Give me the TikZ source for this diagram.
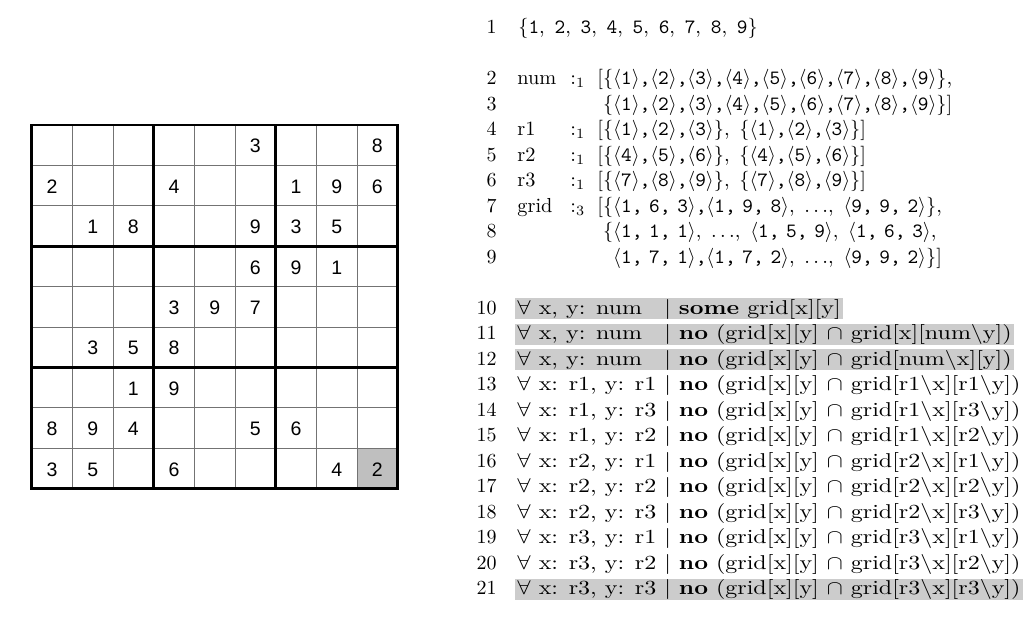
\documentclass[tikz,border=0pt]{standalone}
\usepackage{fontspec}
\newfontfamily\gridfont{Liberation Sans}
\newcommand{\tpl}[1]{$\langle$#1$\rangle$}
\newcommand{\tc}{\texttt{,}}
\newcommand{\tn}[1]{\texttt{#1}}
\newcommand{\sep}{,\hspace{4.8pt}}
\newlength\lw
\newcommand{\cl}[2]{\makebox[\lw][l]{$\forall$ #1}$|$ #2}
\begin{document}
\settowidth\lw{$\forall$ x: r1, y: r1 }%
\begin{tikzpicture}[x=1pt,y=-1pt,
  lnum/.style={anchor=base east, inner sep=0pt, scale=2.0, font=\fontsize{10}{12}\selectfont},
  ltxt/.style={anchor=base west, inner sep=0pt, scale=2.03, font=\fontsize{10}{12}\selectfont},
  rline/.style={anchor=base west, inner sep=0pt, xscale=2.4, yscale=2.0,
    font=\fontsize{10}{12}\selectfont, text height=8pt, text depth=2.6pt},
  hl/.style={fill=gray!40, inner xsep=1pt},
  cellnum/.style={font=\gridfont\fontsize{19.5}{20}\selectfont, inner sep=0pt},
  gthin/.style={line width=1pt, black!55},
  gthick/.style={line width=2.8pt, black, line cap=rect}
]
\useasboundingbox (0,0) rectangle (1032,616);
% ---------- sudoku grid ----------
\fill[gray!50] (357.06,448.2) rectangle (397.73,488.6);
\foreach \i in {1,2,4,5,7,8}{
  \draw[gthin] ({31.7+\i*40.67},125) -- ({31.7+\i*40.67},488.6);
  \draw[gthin] (31.7,{125+\i*40.4}) -- (397.73,{125+\i*40.4});
}
\foreach \i in {0,3,6,9}{
  \draw[gthick] ({31.7+\i*40.67},125) -- ({31.7+\i*40.67},488.6);
  \draw[gthick] (31.7,{125+\i*40.4}) -- (397.73,{125+\i*40.4});
}
\foreach \r/\c/\v in {1/6/3,1/9/8,
  2/1/2,2/4/4,2/7/1,2/8/9,2/9/6,
  3/2/1,3/3/8,3/6/9,3/7/3,3/8/5,
  4/6/6,4/7/9,4/8/1,
  5/4/3,5/5/9,5/6/7,
  6/2/3,6/3/5,6/4/8,
  7/3/1,7/4/9,
  8/1/8,8/2/9,8/3/4,8/6/5,8/7/6,
  9/1/3,9/2/5,9/4/6,9/8/4,9/9/2}{
  \node[cellnum] (d\r\c) at ({31.7+(\c-0.5)*40.67},{125+(\r-0.5)*40.4+1}) {\v};
}
% ---------- line numbers ----------
\foreach \n/\y in {1/33.6,2/84.6,3/110.1,4/135.6,5/161.1,6/186.6,7/212.1,8/237.6,9/263.1,
  10/314.1,11/339.6,12/365.1,13/390.6,14/416.1,15/441.6,16/467.1,17/492.6,18/518.1,19/543.6,20/569.1,21/594.6}{
  \node[lnum] (ln\n) at (497,\y) {\n};
}
% ---------- declarations ----------
\node[ltxt] (t1) at (518,33.6) {\{\tn{1}\sep\tn{2}\sep\tn{3}\sep\tn{4}\sep\tn{5}\sep\tn{6}\sep\tn{7}\sep\tn{8}\sep\tn{9}\}};
\node[ltxt] (n2) at (517,84.6) {num};
\node[ltxt] (c2) at (570,84.6) {:$_1$};
\node[ltxt] (t2) at (597,84.6) {[\{\tpl{\tn{1}}\tc\tpl{\tn{2}}\tc\tpl{\tn{3}}\tc\tpl{\tn{4}}\tc\tpl{\tn{5}}\tc\tpl{\tn{6}}\tc\tpl{\tn{7}}\tc\tpl{\tn{8}}\tc\tpl{\tn{9}}\},};
\node[ltxt] (t3) at (597,110.1) {\phantom{[}\{\tpl{\tn{1}}\tc\tpl{\tn{2}}\tc\tpl{\tn{3}}\tc\tpl{\tn{4}}\tc\tpl{\tn{5}}\tc\tpl{\tn{6}}\tc\tpl{\tn{7}}\tc\tpl{\tn{8}}\tc\tpl{\tn{9}}\}]};
\node[ltxt] (n4) at (517,135.6) {r1};
\node[ltxt] (c4) at (570,135.6) {:$_1$};
\node[ltxt] (t4) at (597,135.6) {[\{\tpl{\tn{1}}\tc\tpl{\tn{2}}\tc\tpl{\tn{3}}\}\sep\{\tpl{\tn{1}}\tc\tpl{\tn{2}}\tc\tpl{\tn{3}}\}]};
\node[ltxt] (n5) at (517,161.1) {r2};
\node[ltxt] (c5) at (570,161.1) {:$_1$};
\node[ltxt] (t5) at (597,161.1) {[\{\tpl{\tn{4}}\tc\tpl{\tn{5}}\tc\tpl{\tn{6}}\}\sep\{\tpl{\tn{4}}\tc\tpl{\tn{5}}\tc\tpl{\tn{6}}\}]};
\node[ltxt] (n6) at (517,186.6) {r3};
\node[ltxt] (c6) at (570,186.6) {:$_1$};
\node[ltxt] (t6) at (597,186.6) {[\{\tpl{\tn{7}}\tc\tpl{\tn{8}}\tc\tpl{\tn{9}}\}\sep\{\tpl{\tn{7}}\tc\tpl{\tn{8}}\tc\tpl{\tn{9}}\}]};
\node[ltxt] (n7) at (517,212.1) {grid};
\node[ltxt] (c7) at (570,212.1) {:$_3$};
\node[ltxt] (t7) at (597,212.1) {[\{\tpl{\tn{1,} \tn{6,} \tn{3}}\tc\tpl{\tn{1,} \tn{9,} \tn{8}}\sep$\ldots$\sep\tpl{\tn{9,} \tn{9,} \tn{2}}\},};
\node[ltxt] (t8) at (597,237.6) {\phantom{[}\{\tpl{\tn{1,} \tn{1,} \tn{1}}\sep$\ldots$\sep\tpl{\tn{1,} \tn{5,} \tn{9}}\sep\tpl{\tn{1,} \tn{6,} \tn{3}},};
\node[ltxt] (t9) at (597,263.1) {\phantom{[\{}\tpl{\tn{1,} \tn{7,} \tn{1}}\tc\tpl{\tn{1,} \tn{7,} \tn{2}}\sep$\ldots$\sep\tpl{\tn{9,} \tn{9,} \tn{2}}\}]};
% ---------- constraints ----------
\node[rline,hl] (l10) at (514.6,314.1) {\cl{x, y: num}{\textbf{some} grid[x][y]}};
\node[rline,hl] (l11) at (514.6,339.6) {\cl{x, y: num}{\textbf{no} (grid[x][y] $\cap$ grid[x][num$\backslash$y])}};
\node[rline,hl] (l12) at (514.6,365.1) {\cl{x, y: num}{\textbf{no} (grid[x][y] $\cap$ grid[num$\backslash$x][y])}};
\node[rline] (l13) at (517,390.6) {\cl{x: r1, y: r1}{\textbf{no} (grid[x][y] $\cap$ grid[r1$\backslash$x][r1$\backslash$y])}};
\node[rline] (l14) at (517,416.1) {\cl{x: r1, y: r3}{\textbf{no} (grid[x][y] $\cap$ grid[r1$\backslash$x][r3$\backslash$y])}};
\node[rline] (l15) at (517,441.6) {\cl{x: r1, y: r2}{\textbf{no} (grid[x][y] $\cap$ grid[r1$\backslash$x][r2$\backslash$y])}};
\node[rline] (l16) at (517,467.1) {\cl{x: r2, y: r1}{\textbf{no} (grid[x][y] $\cap$ grid[r2$\backslash$x][r1$\backslash$y])}};
\node[rline] (l17) at (517,492.6) {\cl{x: r2, y: r2}{\textbf{no} (grid[x][y] $\cap$ grid[r2$\backslash$x][r2$\backslash$y])}};
\node[rline] (l18) at (517,518.1) {\cl{x: r2, y: r3}{\textbf{no} (grid[x][y] $\cap$ grid[r2$\backslash$x][r3$\backslash$y])}};
\node[rline] (l19) at (517,543.6) {\cl{x: r3, y: r1}{\textbf{no} (grid[x][y] $\cap$ grid[r3$\backslash$x][r1$\backslash$y])}};
\node[rline] (l20) at (517,569.1) {\cl{x: r3, y: r2}{\textbf{no} (grid[x][y] $\cap$ grid[r3$\backslash$x][r2$\backslash$y])}};
\node[rline,hl] (l21) at (514.6,594.6) {\cl{x: r3, y: r3}{\textbf{no} (grid[x][y] $\cap$ grid[r3$\backslash$x][r3$\backslash$y])}};
\end{tikzpicture}
\end{document}
